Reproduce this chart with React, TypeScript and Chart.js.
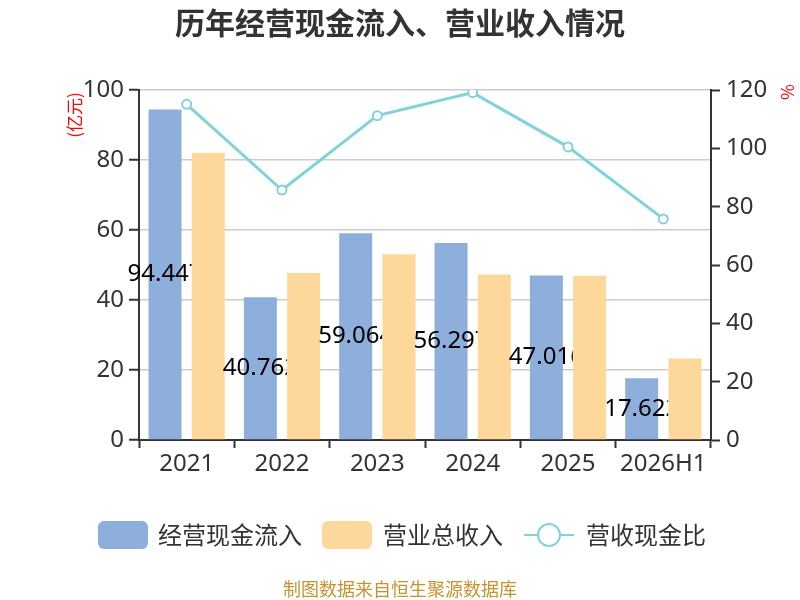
import { useEffect, useRef } from 'react';
import { Chart, registerables } from 'chart.js';

Chart.register(...registerables);

const categories = ['2021', '2022', '2023', '2024', '2025', '2026H1'];
const cashInflow = [94.447, 40.762, 59.064, 56.297, 47.016, 17.622];
const revenue = [82.1, 47.7, 53.1, 47.3, 46.9, 23.3];
const cashRatio = [115.1, 85.7, 111.2, 119.1, 100.5, 75.8];
const seriesNames = ['经营现金流入', '营业总收入', '营收现金比'];

const BLUE = '#8eaedb';
const ORANGE = '#fed89a';
const TEAL = '#80d3d8';
const DARK = '#333333';
const CJK = '"Noto Sans CJK SC", "Noto Sans", sans-serif';
const LATIN = '"Noto Sans", "Noto Sans CJK SC", sans-serif';

// bar value labels, centred in the blue bars and cut off after 64px
const barLabels = {
  id: 'barLabels',
  afterDatasetsDraw(chart: any) {
    const ctx = chart.ctx;
    const meta = chart.getDatasetMeta(0);
    ctx.save();
    ctx.font = `24px ${LATIN}`;
    ctx.fillStyle = '#000';
    ctx.textBaseline = 'middle';
    ctx.textAlign = 'left';
    meta.data.forEach((bar: any, i: number) => {
      const text = cashInflow[i].toFixed(3);
      const w = ctx.measureText(text).width;
      const left = bar.x - w / 2;
      const y = (bar.y + bar.base) / 2;
      ctx.save();
      ctx.beginPath();
      ctx.rect(left - 2, y - 20, 66, 40);
      ctx.clip();
      ctx.fillText(text, left, y);
      ctx.restore();
    });
    ctx.restore();
  },
};

// title, unit labels, legend and source line
const decorations = {
  id: 'decorations',
  afterDraw(chart: any) {
    const ctx = chart.ctx;
    ctx.save();

    ctx.fillStyle = DARK;
    ctx.font = `bold 30px ${CJK}`;
    ctx.textAlign = 'center';
    ctx.textBaseline = 'middle';
    ctx.fillText('历年经营现金流入、营业收入情况', 400, 23);

    ctx.fillStyle = '#ff0000';
    ctx.font = `17px ${CJK}`;
    ctx.save();
    ctx.translate(75, 115);
    ctx.rotate(-Math.PI / 2);
    ctx.fillText('(亿元)', 0, 0);
    ctx.restore();
    ctx.save();
    ctx.translate(787, 92);
    ctx.rotate(Math.PI / 2);
    ctx.fillText('%', 0, 0);
    ctx.restore();

    // legend
    const ly = 535;
    ctx.font = `24px ${CJK}`;
    ctx.textAlign = 'left';
    ctx.fillStyle = BLUE;
    ctx.beginPath();
    ctx.roundRect(98, 521, 50, 28, 6);
    ctx.fill();
    ctx.fillStyle = DARK;
    ctx.fillText(seriesNames[0], 158, ly);

    ctx.fillStyle = ORANGE;
    ctx.beginPath();
    ctx.roundRect(322, 521, 50, 28, 6);
    ctx.fill();
    ctx.fillStyle = DARK;
    ctx.fillText(seriesNames[1], 383, ly);

    ctx.strokeStyle = TEAL;
    ctx.lineWidth = 2;
    ctx.beginPath();
    ctx.moveTo(524, ly);
    ctx.lineTo(574, ly);
    ctx.stroke();
    ctx.beginPath();
    ctx.arc(549, ly, 11, 0, Math.PI * 2);
    ctx.fillStyle = '#fff';
    ctx.fill();
    ctx.stroke();
    ctx.fillStyle = DARK;
    ctx.fillText(seriesNames[2], 586, ly);

    ctx.fillStyle = '#c8922e';
    ctx.font = `18px ${CJK}`;
    ctx.textAlign = 'center';
    ctx.fillText('制图数据来自恒生聚源数据库', 400, 589);

    ctx.restore();
  },
};

const App = () => {
  const chartRef = useRef<HTMLCanvasElement>(null);
  const chartInstance = useRef<Chart | null>(null);

  useEffect(() => {
    document.body.style.margin = '0';
    if (!chartRef.current) return;
    if (chartInstance.current) chartInstance.current.destroy();
    const ctx = chartRef.current.getContext('2d');
    if (!ctx) return;

    chartInstance.current = new Chart(ctx, {
      type: 'bar',
      data: {
        labels: categories,
        datasets: [
          {
            type: 'bar',
            label: seriesNames[0],
            data: cashInflow,
            backgroundColor: BLUE,
            yAxisID: 'y',
            order: 1,
            categoryPercentage: 0.908,
            barPercentage: 0.762,
          },
          {
            type: 'bar',
            label: seriesNames[1],
            data: revenue,
            backgroundColor: ORANGE,
            yAxisID: 'y',
            order: 1,
            categoryPercentage: 0.908,
            barPercentage: 0.762,
          },
          {
            type: 'line',
            label: seriesNames[2],
            data: cashRatio,
            borderColor: TEAL,
            borderWidth: 3,
            pointRadius: 4.5,
            pointBorderWidth: 2,
            pointBackgroundColor: '#fff',
            pointBorderColor: TEAL,
            tension: 0,
            yAxisID: 'y1',
            order: 0,
          },
        ] as any,
      },
      options: {
        responsive: false,
        animation: false,
        layout: { padding: { top: 90, left: 0, right: 0, bottom: 0 } },
        plugins: {
          legend: { display: false },
          tooltip: { enabled: false },
          title: { display: false },
        },
        scales: {
          x: {
            afterFit: (s: any) => { s.height = 160; },
            grid: {
              display: true,
              drawOnChartArea: false,
              offset: true,
              tickLength: 8,
              tickColor: DARK,
              tickWidth: 2,
            },
            border: { color: DARK, width: 2 },
            ticks: { color: DARK, font: { size: 24, family: LATIN }, padding: 2 },
          },
          y: {
            position: 'left',
            min: 0,
            max: 100,
            afterFit: (s: any) => { s.width = 139; },
            ticks: { stepSize: 20, color: DARK, font: { size: 24, family: LATIN }, padding: 5 },
            grid: { color: '#cccccc', lineWidth: 1.5, tickLength: 10, tickColor: DARK, tickWidth: 2 },
            border: { color: DARK, width: 2 },
          },
          y1: {
            position: 'right',
            min: 0,
            max: 120,
            afterFit: (s: any) => { s.width = 89; },
            ticks: { stepSize: 20, color: DARK, font: { size: 24, family: LATIN }, padding: 6 },
            grid: { drawOnChartArea: false, tickLength: 9, tickColor: DARK, tickWidth: 2 },
            border: { color: DARK, width: 2 },
          },
        },
      } as any,
      plugins: [barLabels, decorations],
    });

    return () => {
      if (chartInstance.current) {
        chartInstance.current.destroy();
        chartInstance.current = null;
      }
    };
  }, []);

  return (
    <div style={{ width: 800, height: 600, background: '#fff' }}>
      <canvas ref={chartRef} width={800} height={600} />
    </div>
  );
};

export default App;
